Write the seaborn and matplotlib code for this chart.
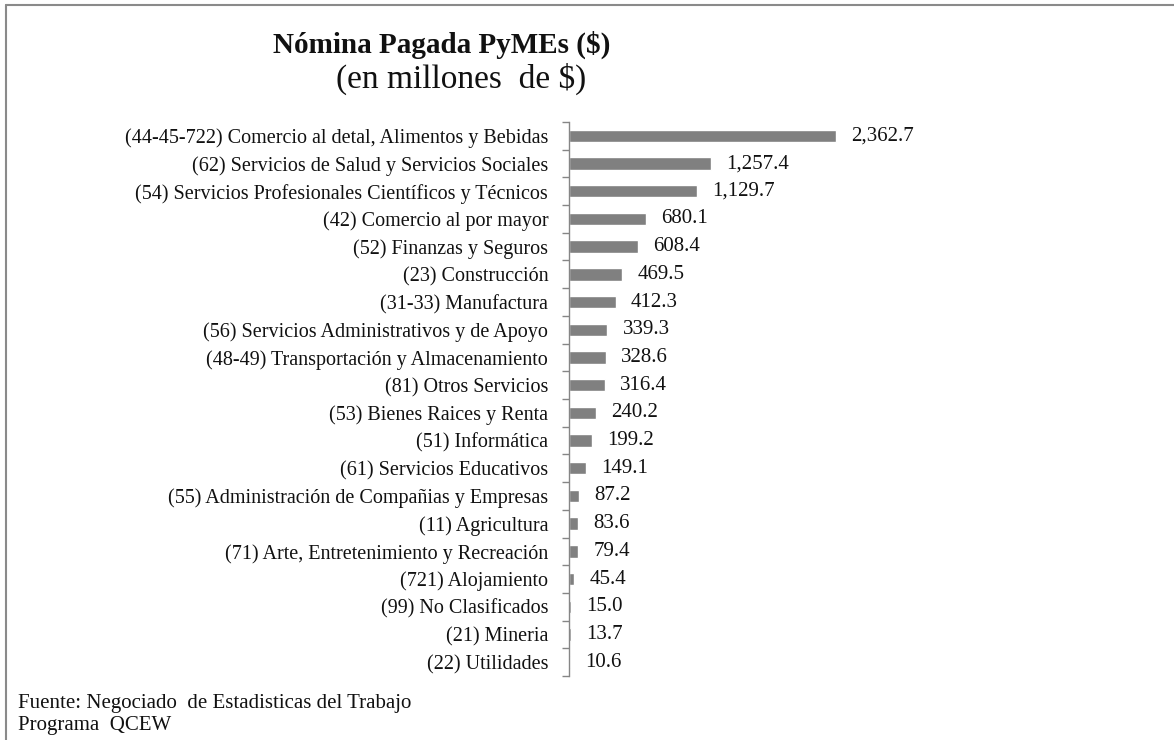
import numpy as np
import pandas as pd
import matplotlib
matplotlib.use("Agg")
import matplotlib.pyplot as plt
import seaborn as sns
from matplotlib.lines import Line2D

# Nomina pagada por sector (millones de $)
sectores = [
    "(44-45-722) Comercio al detal, Alimentos y Bebidas",
    "(62) Servicios de Salud y Servicios Sociales",
    "(54) Servicios Profesionales Científicos y Técnicos",
    "(42) Comercio al por mayor",
    "(52) Finanzas y Seguros",
    "(23) Construcción",
    "(31-33) Manufactura",
    "(56) Servicios Administrativos y de Apoyo",
    "(48-49) Transportación y Almacenamiento",
    "(81) Otros Servicios",
    "(53) Bienes Raices y Renta",
    "(51) Informática",
    "(61) Servicios Educativos",
    "(55) Administración de Compañias y Empresas",
    "(11) Agricultura",
    "(71) Arte, Entretenimiento y Recreación",
    "(721) Alojamiento",
    "(99) No Clasificados",
    "(21) Mineria",
    "(22) Utilidades",
]
nomina = [2362.7, 1257.4, 1129.7, 680.1, 608.4, 469.5, 412.3, 339.3, 328.6, 316.4,
          240.2, 199.2, 149.1, 87.2, 83.6, 79.4, 45.4, 15.0, 13.7, 10.6]

df = pd.DataFrame({"sector": sectores, "nomina": nomina})

sns.set_style("white")
plt.rcParams["font.family"] = ["Liberation Serif", "DejaVu Serif"]

fig = plt.figure(figsize=(11.74, 7.4), dpi=100)
ax = fig.add_axes([569 / 1174, 1 - 676 / 740, 0.47, (676 - 122) / 740])

sns.barplot(data=df, y="sector", x="nomina", orient="h", color="#808080",
            width=0.45, saturation=1, ax=ax)

ax.set_xlim(0, (1121 - 569) / ((836 - 569) / 2362.7))
ax.set_ylim(len(sectores) - 0.5, -0.5)

ax.bar_label(ax.containers[0], labels=[f"{v:,.1f}" for v in nomina],
             padding=11, fontsize=15, color="#111111")

# Ticks at boundaries between categories
ax.set_yticks(np.arange(-0.5, len(sectores), 1), minor=True)
ax.tick_params(axis="y", which="major", length=0, pad=15, labelsize=14.5, labelcolor="#111111")
ax.tick_params(axis="y", which="minor", length=5, color="#868686", width=1, left=True)
ax.set_xticks([])
ax.set_xlabel("")
ax.set_ylabel("")
for s in ["top", "right", "bottom"]:
    ax.spines[s].set_visible(False)
ax.spines["left"].set_color("#868686")
ax.spines["left"].set_linewidth(1)

fig.text(442 / 1174, 1 - 45 / 740, "Nómina Pagada PyMEs ($)", ha="center", va="center",
         fontsize=21, fontweight="bold", color="#111111")
fig.text(461 / 1174, 1 - 79 / 740, "(en millones  de $)", ha="center", va="center",
         fontsize=24, color="#111111")
fig.text(18 / 1174, 1 - 708 / 740, "Fuente: Negociado  de Estadisticas del Trabajo",
         ha="left", va="baseline", fontsize=15, color="#111111")
fig.text(18 / 1174, 1 - 730 / 740, "Programa  QCEW", ha="left", va="baseline",
         fontsize=15, color="#111111")

# outer frame
fig.add_artist(Line2D([6 / 1174, 1], [1 - 5 / 740, 1 - 5 / 740], color="#8a8a8a", lw=1.5))
fig.add_artist(Line2D([6 / 1174, 6 / 1174], [0, 1 - 5 / 740], color="#8a8a8a", lw=1.5))

fig.savefig("out.png", dpi=100)
